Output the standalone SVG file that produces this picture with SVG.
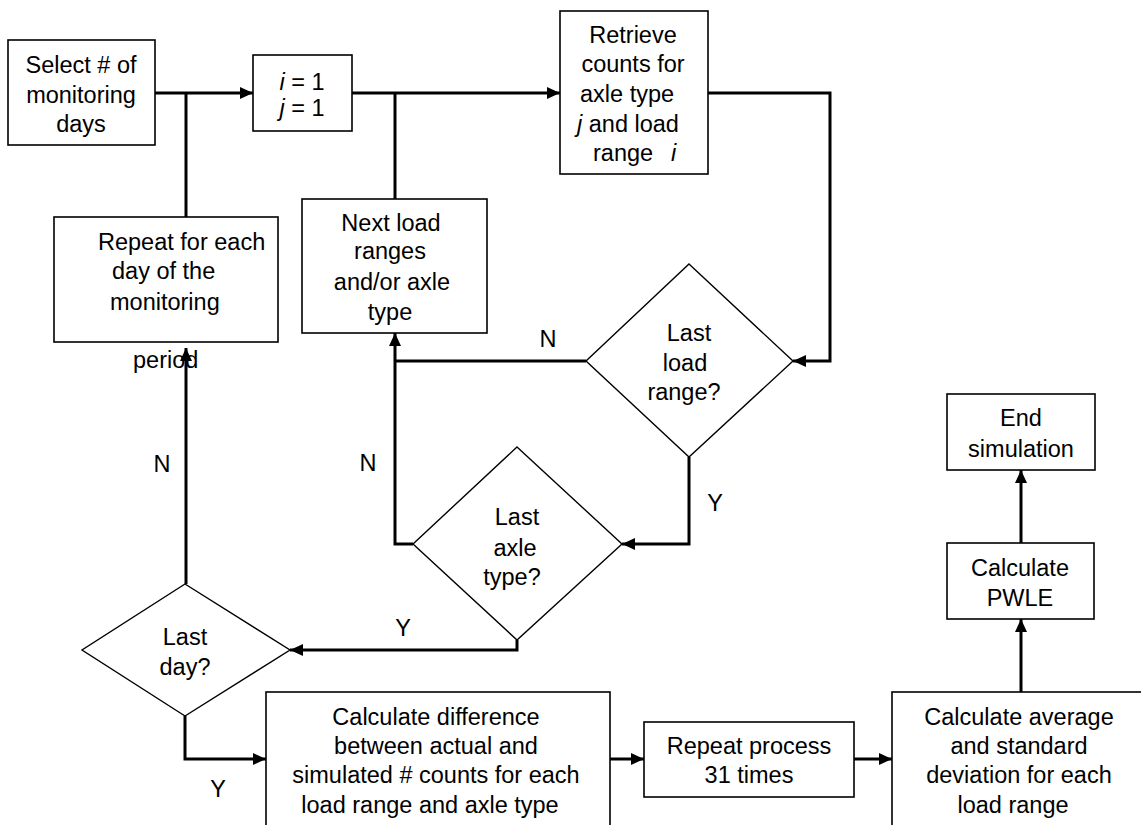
<svg xmlns="http://www.w3.org/2000/svg" width="1141" height="825" viewBox="0 0 1141 825">
  <style>
    .box { fill: #fff; stroke: #000; stroke-width: 1.6; }
    .dia { fill: #fff; stroke: #000; stroke-width: 1.4; }
    .con { fill: none; stroke: #000; stroke-width: 3; }
    text { font-family: "Liberation Sans", Arial, sans-serif; font-size: 23.5px; fill: #000; }
    .c { text-anchor: middle; }
    .it { font-style: italic; }
  </style>
  <defs>
    <marker id="arrow" markerUnits="userSpaceOnUse" markerWidth="14" markerHeight="12" refX="13" refY="6" orient="auto">
      <path d="M0,0 L13,6 L0,12 Z" fill="#000"/>
    </marker>
  </defs>

  <!-- connectors -->
  <g id="connectors">
    <line class="con" x1="155" y1="93" x2="253" y2="93" marker-end="url(#arrow)"/>
    <line class="con" x1="186" y1="217" x2="186" y2="93"/>
    <line class="con" x1="352" y1="93" x2="560" y2="93" marker-end="url(#arrow)"/>
    <line class="con" x1="395" y1="199" x2="395" y2="93"/>
    <polyline class="con" points="708,93 830,93 830,361 793,361" marker-end="url(#arrow)"/>
    <line class="con" x1="586" y1="361" x2="395" y2="361"/>
    <polyline class="con" points="413,544 395,544 395,333" marker-end="url(#arrow)"/>
    <polyline class="con" points="689,457 689,544 622,544" marker-end="url(#arrow)"/>
    <polyline class="con" points="517,640 517,650 290,650" marker-end="url(#arrow)"/>
    <line class="con" x1="186" y1="584" x2="186" y2="348" marker-end="url(#arrow)"/>
    <polyline class="con" points="185,716 185,759 266,759" marker-end="url(#arrow)"/>
    <line class="con" x1="610" y1="759" x2="644" y2="759" marker-end="url(#arrow)"/>
    <line class="con" x1="854" y1="759" x2="892" y2="759" marker-end="url(#arrow)"/>
    <line class="con" x1="1021" y1="692" x2="1021" y2="619" marker-end="url(#arrow)"/>
    <line class="con" x1="1021" y1="543" x2="1021" y2="470" marker-end="url(#arrow)"/>

    <text x="162" y="472" class="c">N</text>
    <text x="368" y="471" class="c">N</text>
    <text x="548" y="347" class="c">N</text>
    <text x="715" y="511" class="c">Y</text>
    <text x="403" y="636" class="c">Y</text>
    <text x="218" y="797" class="c">Y</text>
  </g>

  <g id="select-days">
    <rect class="box" x="8" y="40" width="147" height="105"/>
    <text x="81" y="73" class="c">Select # of</text>
    <text x="81" y="103" class="c">monitoring</text>
    <text x="81" y="132" class="c">days</text>
  </g>

  <g id="init-ij">
    <rect class="box" x="253" y="55" width="99" height="76"/>
    <text x="302" y="90" class="c"><tspan class="it">i</tspan> = 1</text>
    <text x="302" y="116" class="c"><tspan class="it">j</tspan> = 1</text>
  </g>

  <g id="retrieve">
    <rect class="box" x="560" y="11" width="148" height="163"/>
    <text x="633" y="43" class="c">Retrieve</text>
    <text x="633" y="72" class="c">counts for</text>
    <text x="580" y="102">axle type</text>
    <text x="577" y="132"><tspan class="it">j</tspan> and load</text>
    <text x="593" y="161">range</text>
    <text x="671" y="161" class="it">i</text>
  </g>

  <g id="repeat-day">
    <rect class="box" x="54" y="217" width="224" height="125"/>
    <text x="98" y="250">Repeat for each</text>
    <text x="112" y="279">day of the</text>
    <text x="110" y="310">monitoring</text>
    <text x="133" y="368">period</text>
  </g>

  <g id="next-load">
    <rect class="box" x="302" y="199" width="185" height="134"/>
    <text x="391" y="231" class="c">Next load</text>
    <text x="390" y="259" class="c">ranges</text>
    <text x="392" y="290" class="c">and/or axle</text>
    <text x="390" y="320" class="c">type</text>
  </g>

  <g id="last-load">
    <polygon class="dia" points="689,264 793,361 689,457 586,361"/>
    <text x="689" y="341" class="c">Last</text>
    <text x="685" y="371" class="c">load</text>
    <text x="684" y="400" class="c">range?</text>
  </g>

  <g id="last-axle">
    <polygon class="dia" points="517,447 622,544 517,640 413,544"/>
    <text x="517" y="525" class="c">Last</text>
    <text x="515" y="556" class="c">axle</text>
    <text x="512" y="585" class="c">type?</text>
  </g>

  <g id="last-day">
    <polygon class="dia" points="185,584 290,650 185,716 82,650"/>
    <text x="185" y="645" class="c">Last</text>
    <text x="185" y="675" class="c">day?</text>
  </g>

  <g id="calc-difference">
    <rect class="box" x="266" y="692" width="344" height="150"/>
    <text x="436" y="725" class="c">Calculate difference</text>
    <text x="436" y="754" class="c">between actual and</text>
    <text x="436" y="783" class="c">simulated # counts for each</text>
    <text x="430" y="813" class="c">load range and axle type</text>
  </g>

  <g id="repeat-process">
    <rect class="box" x="644" y="722" width="210" height="75"/>
    <text x="749" y="754" class="c">Repeat process</text>
    <text x="749" y="783" class="c">31 times</text>
  </g>

  <g id="calc-average">
    <rect class="box" x="892" y="692" width="262" height="150"/>
    <text x="1019" y="725" class="c">Calculate average</text>
    <text x="1019" y="754" class="c">and standard</text>
    <text x="1019" y="783" class="c">deviation for each</text>
    <text x="1013" y="813" class="c">load range</text>
  </g>

  <g id="calc-pwle">
    <rect class="box" x="947" y="543" width="147" height="76"/>
    <text x="1020" y="576" class="c">Calculate</text>
    <text x="1020" y="606" class="c">PWLE</text>
  </g>

  <g id="end-sim">
    <rect class="box" x="947" y="394" width="148" height="76"/>
    <text x="1021" y="426" class="c">End</text>
    <text x="1021" y="457" class="c">simulation</text>
  </g>
</svg>
